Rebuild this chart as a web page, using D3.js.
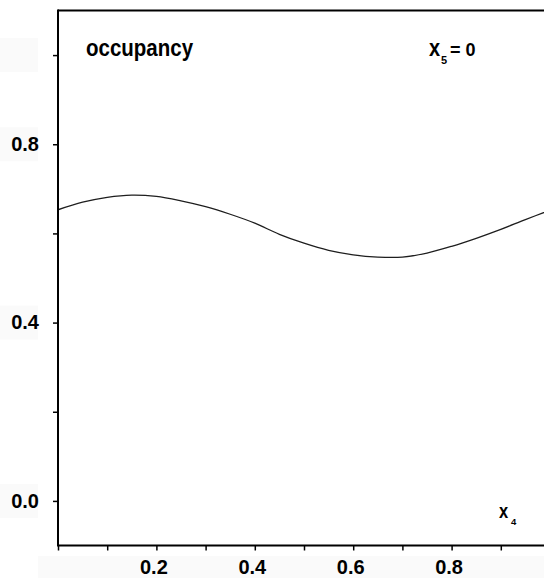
<!DOCTYPE html>
<html>
<head>
<meta charset="utf-8">
<script src="https://cdn.jsdelivr.net/npm/d3@7"></script>
<style>
  html, body { margin: 0; padding: 0; background: #fff; }
  svg { display: block; }
  text { font-family: "Liberation Sans", Arial, Helvetica, sans-serif; font-weight: bold; fill: #000; }
</style>
</head>
<body>
<svg id="chart" width="544" height="578"></svg>
<script>
// Predictor x4 (with x5 held at 0) and the fitted occupancy curve
const x4Values = [0.00, 0.05, 0.10, 0.15, 0.20, 0.25, 0.30, 0.35, 0.40, 0.45, 0.50,
                  0.55, 0.60, 0.65, 0.70, 0.75, 0.80, 0.85, 0.90, 0.95, 1.00];
const occupancy = [0.653, 0.670, 0.681, 0.686, 0.683, 0.673, 0.660, 0.643, 0.623, 0.598, 0.578,
                   0.562, 0.552, 0.547, 0.547, 0.556, 0.571, 0.589, 0.609, 0.631, 0.652];

const yTicks = [0.0, 0.2, 0.4, 0.6, 0.8, 1.0];
const yTickLabels = ["0.0", "", "0.4", "", "0.8", ""];
const xTicks = [0.0, 0.1, 0.2, 0.3, 0.4, 0.5, 0.6, 0.7, 0.8, 0.9];
const xTickLabels = ["", "", "0.2", "", "0.4", "", "0.6", "", "0.8", ""];

const svg = d3.select("#chart");
const W = 544, H = 578;
const plotLeft = 58, plotRight = 550, plotTop = 10.5, plotBottom = 545.5;

const x = d3.scaleLinear().domain([0, 1]).range([plotLeft, plotRight]);
const y = d3.scaleLinear().domain([-0.1, 1.1]).range([plotBottom, plotTop]);

// faint label backing panels
const bg = svg.append("g").attr("fill", "#fafafa");
[0.0, 0.4, 0.8, 1.0].forEach(v => {
  bg.append("rect").attr("x", 0).attr("y", y(v) - 17).attr("width", 38).attr("height", 34);
});
bg.append("rect").attr("x", 38).attr("y", 556).attr("width", W - 38).attr("height", H - 556);

// curve
const line = d3.line()
  .x((d, i) => x(x4Values[i]))
  .y(d => y(d))
  .curve(d3.curveCatmullRom.alpha(0.5));

svg.append("defs").append("clipPath").attr("id", "plotClip")
  .append("rect").attr("x", plotLeft).attr("y", plotTop)
  .attr("width", plotRight - plotLeft).attr("height", plotBottom - plotTop);

svg.append("path")
  .datum(occupancy)
  .attr("clip-path", "url(#plotClip)")
  .attr("fill", "none")
  .attr("stroke", "#1e1e1e")
  .attr("stroke-width", 1.3)
  .attr("d", line);

// left axis
const yAxis = d3.axisLeft(y)
  .tickValues(yTicks)
  .tickSize(5)
  .tickPadding(14)
  .tickFormat((d, i) => yTickLabels[i]);

const gy = svg.append("g").attr("transform", `translate(${plotLeft},0)`).call(yAxis);
gy.select(".domain").remove();
gy.selectAll(".tick line").attr("stroke", "#000").attr("stroke-width", 1.5);
gy.selectAll(".tick text")
  .attr("font-size", 20)
  .attr("font-family", null)
  .attr("fill", "#000");

// bottom axis
const xAxis = d3.axisBottom(x)
  .tickValues(xTicks)
  .tickSize(5)
  .tickFormat((d, i) => xTickLabels[i]);

const gx = svg.append("g").attr("transform", `translate(0,${plotBottom})`).call(xAxis);
gx.select(".domain").remove();
gx.selectAll(".tick line").attr("stroke", "#000").attr("stroke-width", 1.5);
gx.selectAll(".tick text")
  .attr("font-size", 20)
  .attr("font-family", null)
  .attr("fill", "#000")
  .attr("x", -3)
  .attr("y", 28.5)
  .attr("dy", null);

// frame: left axis, bottom axis, top border
svg.append("line").attr("x1", plotLeft).attr("x2", plotLeft).attr("y1", plotTop - 1).attr("y2", plotBottom + 1)
  .attr("stroke", "#000").attr("stroke-width", 2);
svg.append("line").attr("x1", plotLeft).attr("x2", W).attr("y1", plotBottom).attr("y2", plotBottom)
  .attr("stroke", "#000").attr("stroke-width", 2);
svg.append("line").attr("x1", plotLeft).attr("x2", W).attr("y1", plotTop).attr("y2", plotTop)
  .attr("stroke", "#000").attr("stroke-width", 2);

// annotations (lowercase glyphs drawn slightly taller)
function tallText(px, py, size, str, sy) {
  return svg.append("text")
    .attr("transform", `translate(${px},${py}) scale(1,${sy})`)
    .attr("font-size", size)
    .text(str);
}

tallText(86, 56, 20.5, "occupancy", 1.13);

tallText(429, 56, 20, "x", 1.15);
svg.append("text").attr("x", 441).attr("y", 64).attr("font-size", 11).text("5");
svg.append("text").attr("x", 450).attr("y", 56).attr("font-size", 18).text("= 0");

tallText(499, 518, 16.5, "x", 1.25);
svg.append("text").attr("x", 511).attr("y", 525).attr("font-size", 9.5).text("4");
</script>
</body>
</html>
